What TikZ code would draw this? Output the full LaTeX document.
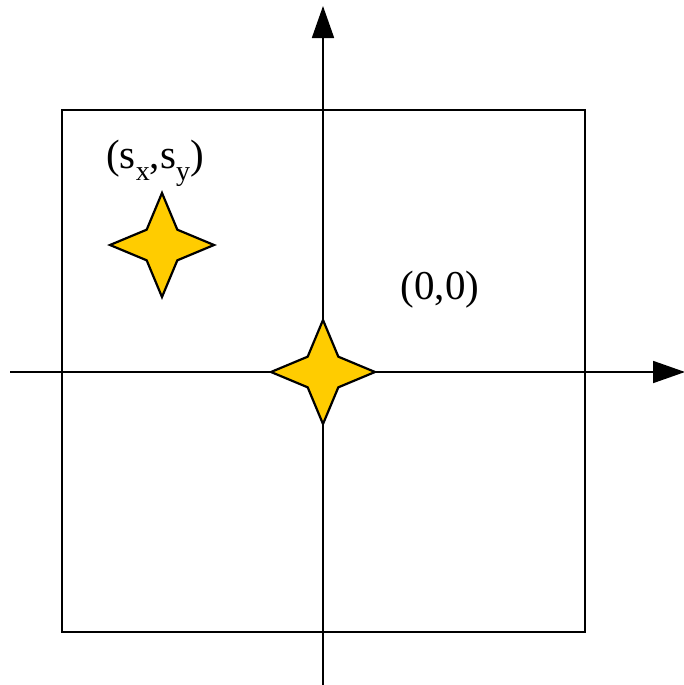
\documentclass[tikz,border=0pt]{standalone}
\usepackage{fontspec}
\setmainfont{Liberation Serif}
\usetikzlibrary{arrows.meta,shapes.geometric}
\definecolor{stargold}{RGB}{255,204,0}
\newcommand{\lowsub}[1]{\raisebox{-6pt}{\fontsize{14}{14}\selectfont #1}}

\begin{document}
\begin{tikzpicture}[
  x=0.5pt, y=-0.5pt,
  every node/.style={font=\fontsize{20.5}{24}\selectfont},
  sparkle/.style={shape=star, star points=4, star point ratio=2.4,
    draw=black, fill=stargold, line width=1.1pt, inner sep=0pt,
    minimum size=52pt},
  axis/.style={line width=0.9pt, -{Triangle[length=16pt,width=11pt]}},
  frame/.style={draw=black, line width=0.9pt},
]
\useasboundingbox (0,0) rectangle (684,685);

% sensor frame
\node[frame, minimum width=261.5pt, minimum height=261pt, inner sep=0pt]
  at (323.5,371) (field) {};

% axes through the origin
\coordinate (xstart) at (10,372);
\coordinate (xend)   at (685,372);
\coordinate (ystart) at (323,685);
\coordinate (yend)   at (323,6);
\draw[axis] (xstart) -- (xend);
\draw[axis] (ystart) -- (yend);

% stars
\node[sparkle] at (162,245) (source) {};
\node[sparkle] at (323,372) (origin) {};

% labels
\node at (155,163) (sourcelbl) {(s\lowsub{x},s\lowsub{y})};
\node at (440,290) (originlbl) {(0,0)};
\end{tikzpicture}
\end{document}
